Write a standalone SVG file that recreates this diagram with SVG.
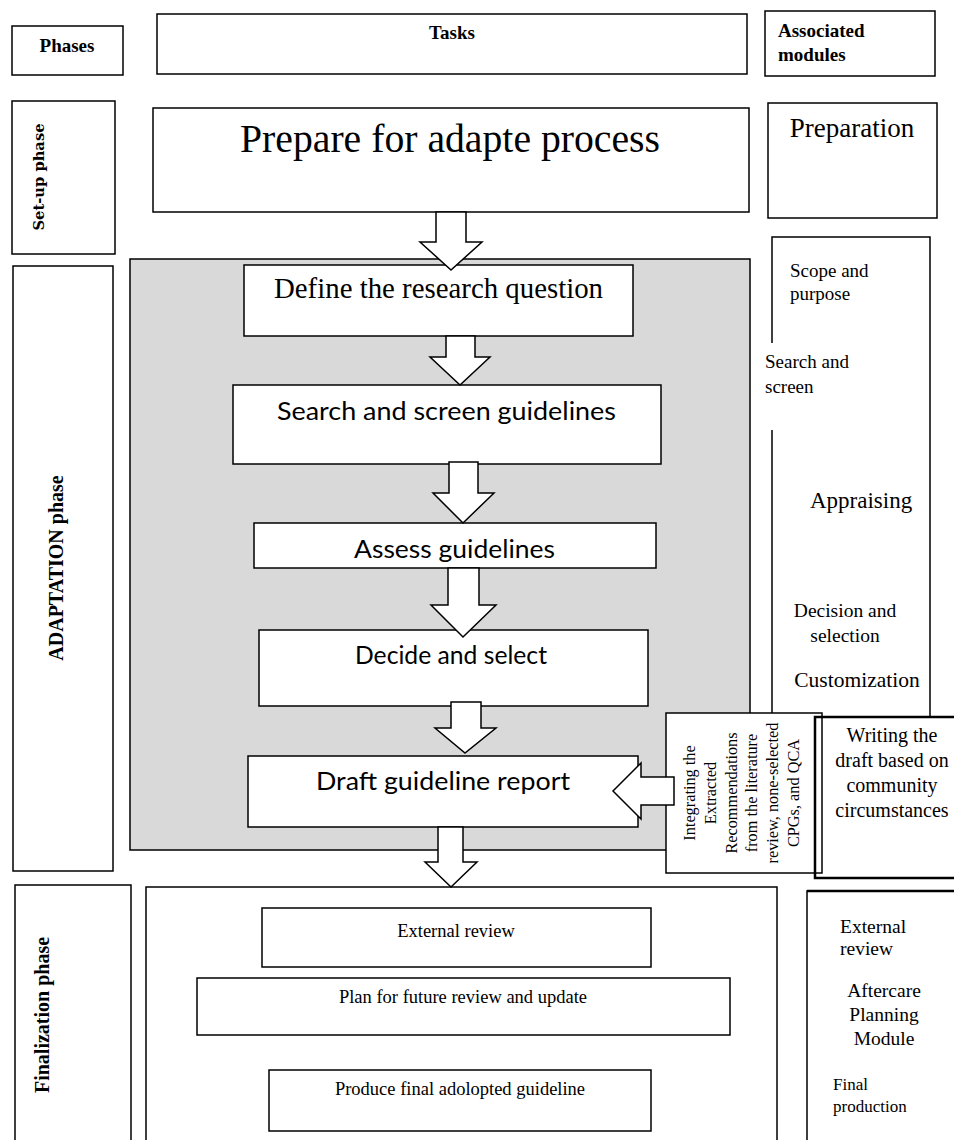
<svg xmlns="http://www.w3.org/2000/svg" width="954" height="1140" viewBox="0 0 954 1140">
<style>
.box{fill:#fff;stroke:#000;stroke-width:1.5}
.open{fill:none;stroke:#000;stroke-width:1.5}
.thick{fill:none;stroke:#000;stroke-width:2.5}
.gray{fill:#d9d9d9;stroke:#000;stroke-width:1.5}
.arrow{fill:#fff;stroke:#000;stroke-width:1.5;stroke-linejoin:miter}
.serif{font-family:"Liberation Serif","Times New Roman",serif;fill:#000}
.sans{font-family:Lato,"Open Sans","Liberation Sans",sans-serif;fill:#000}
.b{font-weight:bold}
.mid{text-anchor:middle}
</style>
<rect width="954" height="1140" fill="#fff"/>

<g id="hdr-phases">
<rect class="box" x="12" y="26" width="111" height="49"/>
<text class="serif b mid" x="67" y="52" font-size="19">Phases</text>
</g>
<g id="hdr-tasks">
<rect class="box" x="157" y="14" width="590" height="60"/>
<text class="serif b mid" x="452" y="39" font-size="19">Tasks</text>
</g>
<g id="hdr-modules">
<rect class="box" x="765" y="11" width="170" height="65"/>
<text class="serif b" x="778" y="37" font-size="19">Associated</text>
<text class="serif b" x="778" y="61" font-size="19">modules</text>
</g>

<g id="phase-setup">
<rect class="box" x="12" y="101" width="103" height="153"/>
<text class="b mid" transform="rotate(-90 44 177)" x="44" y="177" font-size="15" font-family="'DejaVu Serif',serif" textLength="107" lengthAdjust="spacingAndGlyphs">Set-up phase</text>
</g>
<g id="phase-adaptation">
<rect class="box" x="13" y="266" width="100" height="605"/>
<text class="serif b mid" transform="rotate(-90 63 568)" x="63" y="568" font-size="20">ADAPTATION phase</text>
</g>
<g id="phase-finalization">
<rect class="box" x="15" y="885" width="116" height="265"/>
<text class="serif b mid" transform="rotate(-90 49 1015)" x="49" y="1015" font-size="20">Finalization phase</text>
</g>

<g id="task-prepare">
<rect class="box" x="153" y="108" width="596" height="104"/>
<text class="serif" x="240" y="152" font-size="40" textLength="420" lengthAdjust="spacingAndGlyphs">Prepare for adapte process</text>
</g>

<g id="adaptation-container">
<rect class="gray" x="130" y="259" width="620" height="591"/>
</g>
<g id="task-define">
<rect class="box" x="244" y="265" width="389" height="71"/>
<text class="serif" x="274" y="298" font-size="29" textLength="329" lengthAdjust="spacingAndGlyphs">Define the research question</text>
</g>
<g id="task-search">
<rect class="box" x="233" y="385" width="428" height="79"/>
<text class="sans" x="277" y="420" font-size="25" textLength="339" lengthAdjust="spacingAndGlyphs">Search and screen guidelines</text>
</g>
<g id="task-assess">
<rect class="box" x="254" y="523" width="402" height="45"/>
<text class="sans" x="354" y="558" font-size="25" textLength="201" lengthAdjust="spacingAndGlyphs">Assess guidelines</text>
</g>
<g id="task-decide">
<rect class="box" x="259" y="630" width="389" height="76"/>
<text class="sans" x="355" y="664" font-size="25" textLength="192" lengthAdjust="spacingAndGlyphs">Decide and select</text>
</g>
<g id="task-draft">
<rect class="box" x="248" y="756" width="390" height="71"/>
<text class="sans" x="316" y="790" font-size="25" textLength="254" lengthAdjust="spacingAndGlyphs">Draft guideline report</text>
</g>

<g id="task-finalization">
<rect class="box" x="146" y="887" width="631" height="263"/>
</g>
<g id="task-external">
<rect class="box" x="262" y="908" width="389" height="59"/>
<text class="serif mid" x="456" y="937" font-size="18.5">External review</text>
</g>
<g id="task-plan">
<rect class="box" x="197" y="978" width="533" height="57"/>
<text class="serif mid" x="463" y="1003" font-size="18.5">Plan for future review and update</text>
</g>
<g id="task-produce">
<rect class="box" x="269" y="1070" width="382" height="61"/>
<text class="serif mid" x="460" y="1095" font-size="18.5">Produce final adolopted guideline</text>
</g>

<g id="mod-preparation">
<rect class="box" x="768" y="103" width="169" height="115"/>
<text class="serif mid" x="852" y="137" font-size="27">Preparation</text>
</g>
<g id="mod-adaptation">
<path class="open" d="M772,343 V237 H930 V717 M772,430 V715"/>
<text class="serif" x="790" y="277" font-size="19">Scope and</text>
<text class="serif" x="790" y="300" font-size="19">purpose</text>
<text class="serif" x="765" y="368" font-size="19">Search and</text>
<text class="serif" x="765" y="393" font-size="19">screen</text>
<text class="serif" x="810" y="508" font-size="23">Appraising</text>
<text class="serif mid" x="845" y="617" font-size="19.5">Decision and</text>
<text class="serif mid" x="845" y="642" font-size="19.5">selection</text>
<text class="serif mid" x="857" y="687" font-size="21.5">Customization</text>
</g>
<g id="mod-integrating">
<rect class="box" x="666" y="713" width="156" height="160"/>
<g class="serif mid" font-size="16.3">
<text transform="rotate(-90 695 793)" x="695" y="793">Integrating the</text>
<text transform="rotate(-90 716 793)" x="716" y="793">Extracted</text>
<text transform="rotate(-90 737 793)" x="737" y="793">Recommendations</text>
<text transform="rotate(-90 757 793)" x="757" y="793">from the literature</text>
<text transform="rotate(-90 778 793)" x="778" y="793">review, none-selected</text>
<text transform="rotate(-90 799 793)" x="799" y="793">CPGs, and QCA</text>
</g>
</g>
<g id="mod-writing">
<rect class="thick" x="815" y="717" width="145" height="161"/>
<text class="serif mid" x="892" y="742" font-size="20">Writing the</text>
<text class="serif mid" x="892" y="767" font-size="20">draft based on</text>
<text class="serif mid" x="892" y="792" font-size="20">community</text>
<text class="serif mid" x="892" y="817" font-size="20">circumstances</text>
</g>
<g id="mod-finalization">
<rect class="box" x="807" y="891" width="160" height="260"/>
<line x1="807" y1="891" x2="954" y2="891" stroke="#000" stroke-width="2.5"/>
<text class="serif" x="840" y="933" font-size="19.5">External</text>
<text class="serif" x="840" y="955" font-size="19.5">review</text>
<text class="serif mid" x="884" y="997" font-size="19.5">Aftercare</text>
<text class="serif mid" x="884" y="1021" font-size="19.5">Planning</text>
<text class="serif mid" x="884" y="1045" font-size="19.5">Module</text>
<text class="serif" x="833" y="1090" font-size="17">Final</text>
<text class="serif" x="833" y="1112" font-size="17">production</text>
</g>

<g id="connectors">
<polygon class="arrow" points="436,212 466,212 466,242 482,242 451,270 420,242 436,242"/>
<polygon class="arrow" points="446,336 475,336 475,357 490,357 460,385 430,357 446,357"/>
<polygon class="arrow" points="449,462 478,462 478,493 494,493 463,523 433,493 449,493"/>
<polygon class="arrow" points="448,568 479,568 479,605 496,605 463,637 431,605 448,605"/>
<polygon class="arrow" points="451,702 481,702 481,728 496,728 465,753 435,728 451,728"/>
<polygon class="arrow" points="438,827 463,827 463,862 477,862 451,887 425,862 438,862"/>
<polygon class="arrow" points="674,777 641,777 641,763 613,791 641,819 641,805 674,805"/>
</g>
</svg>
